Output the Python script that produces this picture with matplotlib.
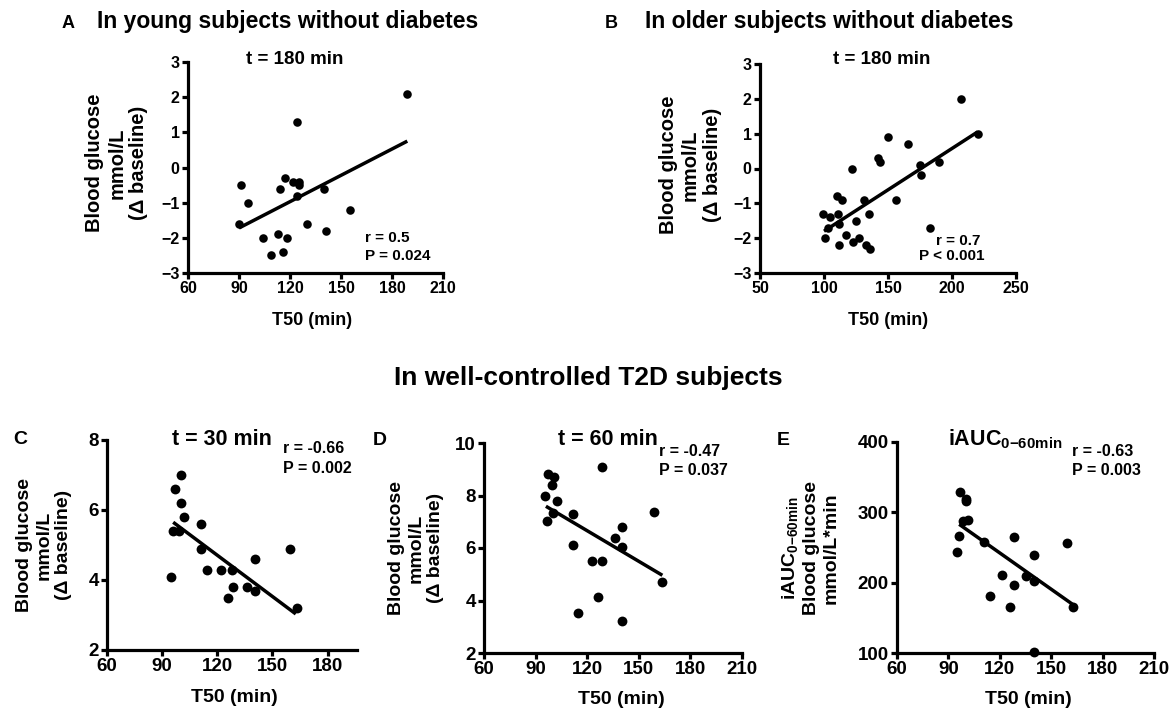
import matplotlib
matplotlib.use('Agg')
import matplotlib.pyplot as plt

# A: young subjects without diabetes, t = 180 min
a_t50 = [189, 124, 91, 95, 90, 104, 109, 113, 118, 116, 114, 117, 121.5, 125, 125, 124, 130, 140, 141, 155]
a_glu = [2.1, 1.3, -0.5, -1.0, -1.6, -2.0, -2.5, -1.9, -2.0, -2.4, -0.6, -0.3, -0.4, -0.4, -0.5, -0.8, -1.6, -0.6, -1.8, -1.2]
a_fit_x = [90, 189]
a_fit_y = [-1.72, 0.75]

# B: older subjects without diabetes, t = 180 min
b_t50 = [207, 220, 150, 166, 122, 142, 144, 175, 176, 190,
         156, 131, 110, 114, 99, 105, 111, 135, 112, 103,
         125, 101, 112, 117, 123, 127, 133, 136, 183]
b_glu = [2.0, 1.0, 0.9, 0.7, 0.0, 0.3, 0.2, 0.1, -0.2, 0.2,
         -0.9, -0.9, -0.8, -0.9, -1.3, -1.4, -1.3, -1.3, -1.6, -1.7,
         -1.5, -2.0, -2.2, -1.9, -2.1, -2.0, -2.2, -2.3, -1.7]
b_fit_x = [100, 220]
b_fit_y = [-1.8, 1.05]

# C: T2D, t = 30 min
c_t50 = [100, 97, 100, 102, 96, 99, 111, 111, 95, 114.5, 122, 128, 128.5, 126, 136, 140.5, 140.5, 159.5, 163.5]
c_glu = [7.0, 6.6, 6.2, 5.8, 5.4, 5.4, 5.6, 4.9, 4.1, 4.3, 4.3, 4.3, 3.8, 3.5, 3.8, 3.7, 4.6, 4.9, 3.2]
c_fit_x = [96, 162.7]
c_fit_y = [5.65, 3.03]

# D: T2D, t = 60 min
d_t50 = [97.3, 100.6, 99.3, 95.4, 102.5, 100.2, 96.4, 111.5, 111.5, 122.6,
         128.4, 128.4, 126.4, 114.4, 140.4, 136.2, 140.4, 140.4, 159.1, 163.4]
d_glu = [8.83, 8.7, 8.41, 8.0, 7.8, 7.33, 7.01, 7.31, 6.1, 5.52,
         5.52, 9.09, 4.12, 3.52, 3.22, 6.4, 6.8, 6.02, 7.39, 4.7]
d_fit_x = [96, 163.7]
d_fit_y = [7.59, 4.96]

# E: T2D, iAUC 0-60 min
e_t50 = [97, 100, 100, 98.5, 101.5, 96, 95, 111, 128, 121, 128, 114, 126, 135.5, 140, 140, 159, 163, 140]
e_auc = [329, 319, 316, 287, 289, 266, 243, 258, 265, 211, 196, 181, 166, 210, 202, 239, 257, 166, 102]
e_fit_x = [96.3, 162.9]
e_fit_y = [283, 168.5]

W, H = 1176, 715


def box(left, top, right, bottom):
    return [left / W, 1 - bottom / H, (right - left) / W, (bottom - top) / H]


def fx(x):
    return x / W


def fy(y):
    return 1 - y / H


plt.rcParams['font.family'] = ['Liberation Sans', 'DejaVu Sans']
plt.rcParams['font.weight'] = 'bold'
plt.rcParams['mathtext.fontset'] = 'custom'
plt.rcParams['mathtext.rm'] = 'Liberation Sans:bold'
plt.rcParams['mathtext.it'] = 'Liberation Sans:bold'
plt.rcParams['mathtext.bf'] = 'Liberation Sans:bold'

fig = plt.figure(figsize=(11.76, 7.15), dpi=100)


def panel(rect, x, y, lx, ly, xlim, xticks, ylim, yticks, size, fs):
    ax = fig.add_axes(rect)
    ax.scatter(x, y, s=size, color='black', clip_on=False, zorder=3, linewidths=0)
    ax.plot(lx, ly, color='black', lw=2.5, solid_capstyle='butt', zorder=2)
    ax.set_xlim(xlim)
    ax.set_ylim(ylim)
    ax.set_xticks(xticks)
    ax.set_yticks(yticks)
    ax.spines['top'].set_visible(False)
    ax.spines['right'].set_visible(False)
    ax.spines['left'].set_linewidth(2.3)
    ax.spines['bottom'].set_linewidth(2.3)
    ax.tick_params(width=2.3, length=4, labelsize=fs, pad=2)
    ax.patch.set_alpha(0)
    return ax


panel(box(188, 62, 443, 273), a_t50, a_glu, a_fit_x, a_fit_y,
      (60, 210), range(60, 211, 30), (-3, 3), range(-3, 4), 38, 11.5)
panel(box(760, 64, 1016, 273), b_t50, b_glu, b_fit_x, b_fit_y,
      (50, 250), range(50, 251, 50), (-3, 3), range(-3, 4), 38, 11.5)
panel(box(107, 440, 357, 650), c_t50, c_glu, c_fit_x, c_fit_y,
      (60, 196), range(60, 181, 30), (2, 8), range(2, 9, 2), 50, 13.5)
panel(box(484, 443, 742, 653), d_t50, d_glu, d_fit_x, d_fit_y,
      (60, 210), range(60, 211, 30), (2, 10), range(2, 11, 2), 50, 13.5)
panel(box(897, 442, 1154, 653), e_t50, e_auc, e_fit_x, e_fit_y,
      (60, 210), range(60, 211, 30), (100, 400), range(100, 401, 100), 50, 13.5)

# headings
fig.text(fx(62), fy(28), 'A', fontsize=13)
fig.text(fx(97), fy(28), 'In young subjects without diabetes', fontsize=16.5)
fig.text(fx(605), fy(28), 'B', fontsize=13)
fig.text(fx(645), fy(28), 'In older subjects without diabetes', fontsize=16.5)
fig.text(fx(588), fy(385), 'In well-controlled T2D subjects', fontsize=19, ha='center')
fig.text(fx(13), fy(444), 'C', fontsize=14)
fig.text(fx(373), fy(445), 'D', fontsize=14)
fig.text(fx(777), fy(445), 'E', fontsize=14)

# panel titles
fig.text(fx(295), fy(64), 't = 180 min', fontsize=13.5, ha='center')
fig.text(fx(882), fy(64), 't = 180 min', fontsize=13.5, ha='center')
fig.text(fx(222), fy(445), 't = 30 min', fontsize=15.5, ha='center')
fig.text(fx(608), fy(445), 't = 60 min', fontsize=15.5, ha='center')
fig.text(fx(948), fy(445), 'iAUC$_{0{-}60min}$', fontsize=15.5)

# statistics
fig.text(fx(365), fy(242), 'r = 0.5', fontsize=11)
fig.text(fx(365), fy(260), 'P = 0.024', fontsize=11)
fig.text(fx(936), fy(245), 'r = 0.7', fontsize=11)
fig.text(fx(919), fy(260), 'P < 0.001', fontsize=11)
fig.text(fx(283), fy(453), 'r = -0.66', fontsize=11.5)
fig.text(fx(283), fy(473), 'P = 0.002', fontsize=11.5)
fig.text(fx(659), fy(456), 'r = -0.47', fontsize=11.5)
fig.text(fx(659), fy(475), 'P = 0.037', fontsize=11.5)
fig.text(fx(1072), fy(456), 'r = -0.63', fontsize=11.5)
fig.text(fx(1072), fy(475), 'P = 0.003', fontsize=11.5)

# axis labels
glu_lab = 'Blood glucose\nmmol/L\n(\u0394 baseline)'
fig.text(fx(117), fy(163), glu_lab, fontsize=14.5, rotation=90, ha='center', va='center',
         multialignment='center', linespacing=1.2)
fig.text(fx(690), fy(165), glu_lab, fontsize=14.5, rotation=90, ha='center', va='center',
         multialignment='center', linespacing=1.2)
fig.text(fx(44), fy(545), glu_lab, fontsize=14, rotation=90, ha='center', va='center',
         multialignment='center', linespacing=1.2)
fig.text(fx(416), fy(548), glu_lab, fontsize=14, rotation=90, ha='center', va='center',
         multialignment='center', linespacing=1.2)
fig.text(fx(810), fy(548), 'iAUC$_{0{-}60min}$\nBlood glucose\nmmol/L*min', fontsize=14,
         rotation=90, ha='center', va='center', multialignment='center', linespacing=1.2)

fig.text(fx(312), fy(325), 'T50 (min)', fontsize=13, ha='center')
fig.text(fx(888), fy(325), 'T50 (min)', fontsize=13, ha='center')
fig.text(fx(234), fy(702), 'T50 (min)', fontsize=14, ha='center')
fig.text(fx(621), fy(704), 'T50 (min)', fontsize=14, ha='center')
fig.text(fx(1028), fy(704), 'T50 (min)', fontsize=14, ha='center')

fig.savefig('out.png', dpi=100)
